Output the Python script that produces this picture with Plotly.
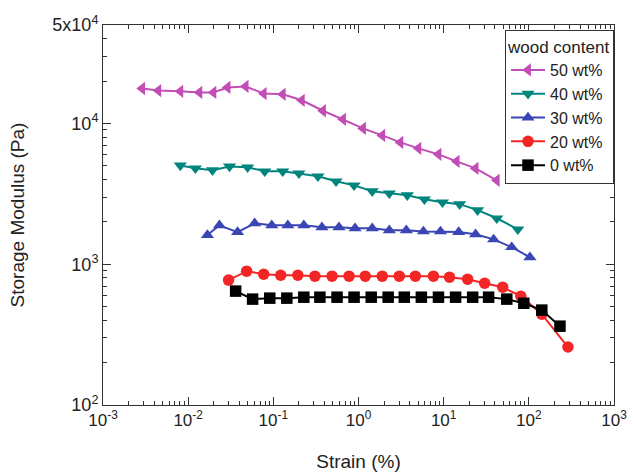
import plotly.graph_objects as go

# ---- data ----
strain_50 = [0.00288, 0.00446, 0.00809, 0.01355, 0.0198, 0.0290, 0.0473, 0.0771, 0.129, 0.216,
             0.383, 0.658, 1.13, 1.90, 3.10, 5.05, 8.69, 14.2, 23.7, 42.0]
mod_50 = [17700, 17100, 16900, 16600, 16600, 18000, 18300, 16300, 16100, 14600,
          12300, 10700, 9220, 8220, 7330, 6650, 6030, 5380, 4790, 3940]

strain_40 = [0.00809, 0.01216, 0.0193, 0.0306, 0.0499, 0.0792, 0.129, 0.1995, 0.334, 0.545,
             0.887, 1.45, 2.30, 3.74, 5.94, 9.68, 15.4, 25.0, 42.0, 74.2]
mod_40 = [5030, 4800, 4650, 4950, 4880, 4570, 4570, 4420, 4210, 3880,
          3630, 3300, 3190, 3090, 2890, 2750, 2670, 2420, 2120, 1770]

strain_30 = [0.01683, 0.0233, 0.0380, 0.0604, 0.0958, 0.148, 0.228, 0.372, 0.590, 0.912,
             1.45, 2.30, 3.64, 5.78, 9.17, 15.0, 23.7, 38.6, 63.0, 103]
mod_30 = [1610, 1890, 1690, 1950, 1890, 1890, 1890, 1830, 1830, 1800,
          1800, 1740, 1740, 1710, 1710, 1690, 1630, 1500, 1320, 1120]

strain_20 = [0.0298, 0.0486, 0.0771, 0.122, 0.194, 0.308, 0.489, 0.775, 1.20, 1.90,
             3.01, 4.65, 7.58, 11.7, 19.1, 30.3, 49.3, 80.5, 142, 288]
mod_20 = [771, 892, 849, 835, 835, 822, 822, 822, 822, 822,
          822, 822, 822, 809, 783, 733, 687, 593, 442, 258]

strain_0 = [0.0361, 0.0571, 0.0908, 0.144, 0.228, 0.352, 0.560, 0.887, 1.41, 2.23,
            3.45, 5.47, 8.69, 13.8, 21.9, 33.7, 55.1, 87.3, 142, 232]
mod_0 = [644, 565, 574, 574, 583, 583, 583, 583, 583, 583,
         583, 583, 583, 583, 583, 583, 565, 528, 472, 363]

series_names = ["50 wt%", "40 wt%", "30 wt%", "20 wt%", "0 wt%"]

x_tickvals = [1e-3, 1e-2, 1e-1, 1e0, 1e1, 1e2, 1e3]
x_ticktext = ["10<sup>-3</sup>", "10<sup>-2</sup>", "10<sup>-1</sup>", "10<sup>0</sup>",
              "10<sup>1</sup>", "10<sup>2</sup>", "10<sup>3</sup>"]
y_tickvals = [1e2, 1e3, 1e4, 5e4]
y_ticktext = ["10<sup>2</sup>", "10<sup>3</sup>", "10<sup>4</sup>", "5x10<sup>4</sup>"]

# ---- styles ----
styles = [
    dict(color="#C24DB6", symbol="triangle-left"),
    dict(color="#00857D", symbol="triangle-down"),
    dict(color="#3A46B4", symbol="triangle-up"),
    dict(color="#F42525", symbol="circle"),
    dict(color="#000000", symbol="square"),
]
data = [(strain_50, mod_50), (strain_40, mod_40), (strain_30, mod_30),
        (strain_20, mod_20), (strain_0, mod_0)]

fig = go.Figure()
for (xs, ys), name, st in zip(data, series_names, styles):
    fig.add_trace(go.Scatter(
        x=xs, y=ys, name=name, mode="lines+markers",
        line=dict(color=st["color"], width=2),
        marker=dict(color=st["color"], symbol=st["symbol"], size=11.5,
                    line=dict(width=0)),
    ))

x_minor = [m * 10 ** e for e in range(-3, 3) for m in range(2, 10)]
y_minor = [m * 10 ** e for e in range(2, 5) for m in range(2, 10) if m * 10 ** e < 5e4]

font_family = "Liberation Sans, Arial, sans-serif"

fig.update_layout(
    width=636, height=472,
    margin=dict(l=103, r=22, t=25, b=67, autoexpand=False),
    paper_bgcolor="white", plot_bgcolor="white",
    font=dict(family=font_family, color="#222222"),
    showlegend=True,
    legend=dict(
        x=1.0, y=0.987, xanchor="right", yanchor="top",
        bgcolor="white", bordercolor="#333333", borderwidth=1,
        font=dict(size=16, family=font_family, color="#222222"),
        title=dict(text="wood content", font=dict(size=17, family=font_family)),
        tracegroupgap=0, itemwidth=34,
    ),
    xaxis=dict(
        type="log", range=[-3, 3], automargin=False,
        tickmode="array", tickvals=x_tickvals, ticktext=x_ticktext,
        ticks="inside", ticklen=8, tickwidth=1, tickcolor="#333333",
        showline=True, linecolor="#333333", linewidth=1, mirror="allticks",
        showgrid=False, zeroline=False,
        tickfont=dict(size=17, family=font_family),
        minor=dict(tickmode="array", tickvals=x_minor, ticks="inside",
                   ticklen=4, tickcolor="#333333", showgrid=False),
        title=dict(text="Strain (%)", font=dict(size=19, family=font_family), standoff=28),
    ),
    yaxis=dict(
        type="log", range=[2, 4.69897], automargin=False,
        tickmode="array", tickvals=y_tickvals, ticktext=y_ticktext,
        ticks="inside", ticklen=8, tickwidth=1, tickcolor="#333333",
        showline=True, linecolor="#333333", linewidth=1, mirror="allticks",
        showgrid=False, zeroline=False,
        tickfont=dict(size=18, family=font_family),
        minor=dict(tickmode="array", tickvals=y_minor, ticks="inside",
                   ticklen=4, tickcolor="#333333", showgrid=False),
        title=dict(text="Storage Modulus (Pa)", font=dict(size=19, family=font_family), standoff=22),
    ),
)

fig.write_html(
    "out.html",
    config={"displayModeBar": False},
    post_script="document.body.style.margin='0';document.body.style.overflow='hidden';",
)
